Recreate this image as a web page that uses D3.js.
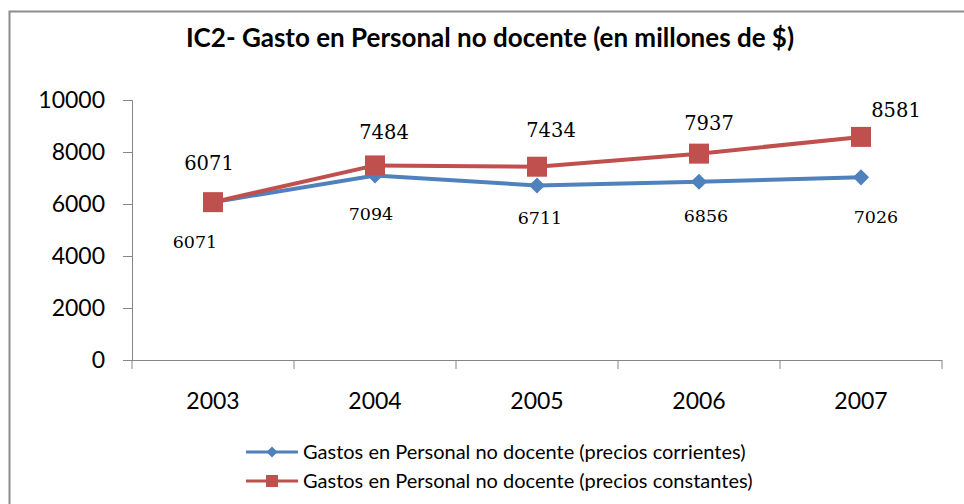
<!DOCTYPE html>
<html lang="es">
<head>
<meta charset="utf-8">
<title>IC2 - Gasto en Personal no docente</title>
<script src="https://d3js.org/d3.v7.min.js"></script>
<style>
  body { margin: 0; background: #fff; }
  text { font-family: 'Lato', 'Noto Sans', sans-serif; fill: #000; }
  .lbl { font-family: 'DejaVu Serif', 'Liberation Serif', serif; }
  .axis path, .axis line { stroke: #868686; }
</style>
</head>
<body>
<div id="chart"></div>
<script>
  // data
  var years = ["2003", "2004", "2005", "2006", "2007"];
  var corrientes = [6071, 7094, 6711, 6856, 7026];
  var constantes = [6071, 7484, 7434, 7937, 8581];
  var yTicks = [0, 2000, 4000, 6000, 8000, 10000];
  var seriesNames = [
    "Gastos en Personal no docente (precios corrientes)",
    "Gastos en Personal no docente (precios constantes)"
  ];

  // label placement (pixels, relative to the marker) as Excel put them
  var redLabelShift = [[-4, -39], [9, -33], [14, -37], [10, -31], [35, -27]];
  var blueLabelShift = [[-18, 40], [-4, 38], [3, 32], [7, 34], [15, 39]];

  var w = 964, h = 504;
  var svg = d3.select("#chart").append("svg")
      .attr("width", w).attr("height", h);

  // outer frame
  svg.append("rect")
      .attr("x", 9.5).attr("y", 11.5)
      .attr("width", 1000).attr("height", 600)
      .attr("fill", "white").attr("stroke", "#8c8c8c").attr("stroke-width", 2);

  // title
  svg.append("text")
      .attr("x", 490).attr("y", 47)
      .attr("text-anchor", "middle")
      .style("font-size", "26px").style("font-weight", "bold")
      .text("IC2- Gasto en Personal no docente (en millones de $)");

  var pLeft = 132, pRight = 942, pTop = 100, pBottom = 360;

  var x = d3.scaleBand().domain(years).range([pLeft, pRight]);
  var y = d3.scaleLinear().domain([0, 10000]).range([pBottom, pTop]);

  // y axis
  var yAxis = svg.append("g")
      .attr("class", "axis")
      .attr("transform", "translate(" + pLeft + ",0)")
      .call(d3.axisLeft(y).tickValues(yTicks).tickSize(9).tickPadding(18).tickFormat(d3.format("d")));
  yAxis.selectAll("text").style("font-size", "23px").style("font-family", "Lato, sans-serif");

  // x axis
  var xAxis = svg.append("g")
      .attr("class", "axis")
      .attr("transform", "translate(0," + pBottom + ")")
      .call(d3.axisBottom(x).tickSize(0).tickPadding(33));
  xAxis.select(".domain").attr("d", "M" + (pLeft - 9) + ",0.5H" + pRight);
  xAxis.selectAll("text").style("font-size", "23px").style("font-family", "Lato, sans-serif");
  // tick marks between categories
  xAxis.selectAll(".sep")
      .data(years.concat(["end"]))
      .enter().append("line")
      .attr("class", "sep")
      .attr("x1", function(d, i) { return pLeft + i * x.step(); })
      .attr("x2", function(d, i) { return pLeft + i * x.step(); })
      .attr("y1", 0).attr("y2", 9)
      .attr("stroke", "#868686");

  var cx = function(i) { return x(years[i]) + x.bandwidth() / 2; };

  var line = d3.line()
      .x(function(d, i) { return cx(i); })
      .y(function(d) { return y(d); });

  // blue series
  svg.append("path")
      .datum(corrientes)
      .attr("d", line)
      .attr("fill", "none").attr("stroke", "#4F81BD").attr("stroke-width", 4);
  svg.selectAll(".dia")
      .data(corrientes).enter().append("path")
      .attr("class", "dia")
      .attr("d", d3.symbol().type(d3.symbolSquare).size(130))
      .attr("transform", function(d, i) { return "translate(" + cx(i) + "," + y(d) + ") rotate(45)"; })
      .attr("fill", "#4F81BD");

  // red series
  svg.append("path")
      .datum(constantes)
      .attr("d", line)
      .attr("fill", "none").attr("stroke", "#C0504D").attr("stroke-width", 4);
  svg.selectAll(".sq")
      .data(constantes).enter().append("rect")
      .attr("class", "sq")
      .attr("x", function(d, i) { return cx(i) - 10; })
      .attr("y", function(d) { return y(d) - 10; })
      .attr("width", 20).attr("height", 20)
      .attr("fill", "#C0504D");

  // data labels
  svg.selectAll(".lblRed")
      .data(constantes).enter().append("text")
      .attr("class", "lbl")
      .attr("x", function(d, i) { return cx(i) + redLabelShift[i][0]; })
      .attr("y", function(d, i) { return y(d) + redLabelShift[i][1]; })
      .attr("dy", "0.36em")
      .attr("text-anchor", "middle")
      .style("font-size", "19.5px")
      .text(function(d) { return d; });

  svg.selectAll(".lblBlue")
      .data(corrientes).enter().append("text")
      .attr("class", "lbl")
      .attr("x", function(d, i) { return cx(i) + blueLabelShift[i][0]; })
      .attr("y", function(d, i) { return y(d) + blueLabelShift[i][1]; })
      .attr("dy", "0.36em")
      .attr("text-anchor", "middle")
      .style("font-size", "17.5px")
      .text(function(d) { return d; });

  // legend
  var legend = svg.append("g").attr("transform", "translate(246,452)");
  var colors = ["#4F81BD", "#C0504D"];
  seriesNames.forEach(function(name, i) {
    var g = legend.append("g").attr("transform", "translate(0," + (i * 29) + ")");
    g.append("line").attr("x1", 0).attr("x2", 52).attr("y1", 0).attr("y2", 0)
        .attr("stroke", colors[i]).attr("stroke-width", 3);
    if (i === 0) {
      g.append("path")
          .attr("d", d3.symbol().type(d3.symbolSquare).size(60))
          .attr("transform", "translate(26,0) rotate(45)")
          .attr("fill", colors[i]);
    } else {
      g.append("rect").attr("x", 20).attr("y", -6).attr("width", 12).attr("height", 12)
          .attr("fill", colors[i]);
    }
    g.append("text").attr("x", 57).attr("y", 0).attr("dy", "0.35em")
        .style("font-size", "20px")
        .text(name);
  });
</script>
</body>
</html>
